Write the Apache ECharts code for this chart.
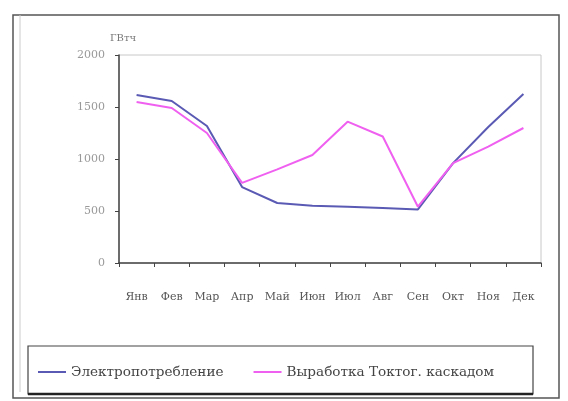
<!DOCTYPE html>
<html>
<head>
<meta charset="utf-8">
<script src="https://cdn.jsdelivr.net/npm/echarts@6/dist/echarts.min.js"></script>
<style>html,body{margin:0;padding:0;background:#fff;}#c{width:568px;height:401px;}</style>
</head>
<body>
<div id="c"></div>
<script>
const categories = ['Янв','Фев','Мар','Апр','Май','Июн','Июл','Авг','Сен','Окт','Ноя','Дек'];
const consumption = [1615, 1558, 1317, 730, 577, 551, 541, 528, 515, 960, 1307, 1625];
const generation = [1548, 1490, 1250, 770, 900, 1038, 1359, 1216, 541, 960, 1119, 1298];
const yTicks = [0, 500, 1000, 1500, 2000];
const seriesNames = ['Электропотребление', 'Выработка Токтог. каскадом'];
const unitLabel = 'ГВтч';

const chart = echarts.init(document.getElementById('c'));
const serif = '"DejaVu Serif", "Liberation Serif", serif';
chart.setOption({
  animation: false,
  backgroundColor: '#fff',
  grid: {left: 119, top: 55, right: 27, bottom: 138, show: true, borderColor: '#c8c8c8', borderWidth: 1},
  xAxis: {
    type: 'category', data: categories, boundaryGap: true,
    axisLine: {lineStyle: {color: '#444', width: 1.5}},
    axisTick: {show: true, length: 4, lineStyle: {color: '#444'}},
    axisLabel: {margin: 29, fontFamily: serif, fontSize: 11, color: '#555'}
  },
  yAxis: {
    type: 'value', min: yTicks[0], max: yTicks[yTicks.length-1], interval: 500,
    name: unitLabel, nameLocation: 'end', nameGap: 12,
    nameTextStyle: {fontFamily: serif, fontSize: 10, color: '#777', align: 'left', padding: [0,0,0,-9]},
    axisLine: {show: true, lineStyle: {color: '#444', width: 1.5}},
    axisTick: {show: true, length: 4, lineStyle: {color: '#444'}},
    splitLine: {show: false},
    axisLabel: {margin: 14, fontFamily: serif, fontSize: 11, color: '#999', formatter: v => String(v)}
  },
  legend: {
    left: 33, top: 360, itemWidth: 28, itemHeight: 2, icon: 'rect', itemGap: 30,
    textStyle: {fontFamily: serif, fontSize: 13.6, color: '#444'},
    data: seriesNames
  },
  series: [
    {name: seriesNames[0], type: 'line', data: consumption, showSymbol: false,
     lineStyle: {color: '#5a5ab4', width: 2}, itemStyle: {color: '#5a5ab4'}},
    {name: seriesNames[1], type: 'line', data: generation, showSymbol: false,
     lineStyle: {color: '#f060f0', width: 2}, itemStyle: {color: '#f060f0'}}
  ],
  graphic: [
    {type: 'rect', shape: {x: 13, y: 15, width: 546, height: 383}, style: {fill: 'none', stroke: '#555', lineWidth: 1.5}, silent: true},
    {type: 'line', shape: {x1: 20, y1: 15, x2: 20, y2: 392}, style: {stroke: '#ccc', lineWidth: 1}, silent: true},
    {type: 'rect', shape: {x: 28, y: 346, width: 505, height: 48}, style: {fill: 'none', stroke: '#444', lineWidth: 1.2}, silent: true},
    {type: 'line', shape: {x1: 28, y1: 394, x2: 533, y2: 394}, style: {stroke: '#222', lineWidth: 2.5}, silent: true}
  ]
});
</script>
</body>
</html>
